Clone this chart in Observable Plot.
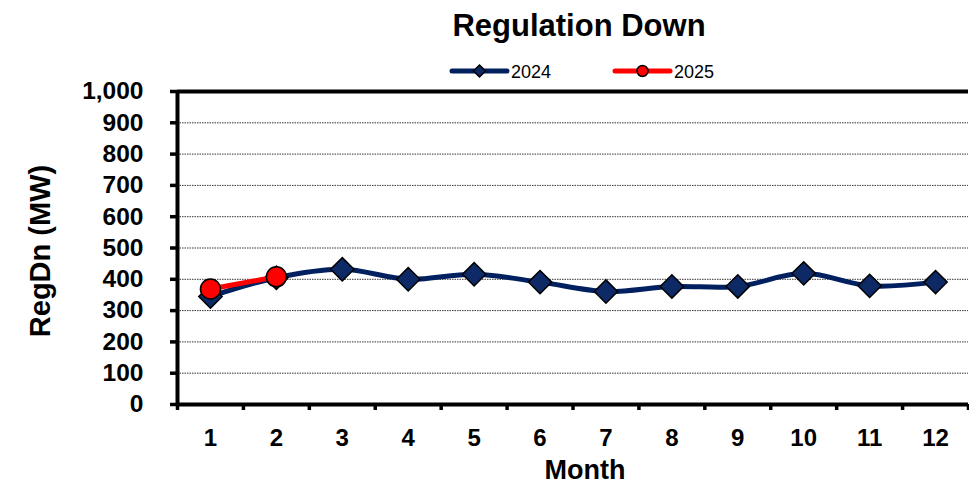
<!DOCTYPE html>
<html>
<head>
<meta charset="utf-8">
<script src="https://cdn.jsdelivr.net/npm/d3@7"></script>
<script src="https://cdn.jsdelivr.net/npm/@observablehq/plot@0.6"></script>
<style>
  body { margin: 0; background: #fff; font-family: "Liberation Sans", Arial, sans-serif; }
  #wrap { width: 969px; }
  #head { position: relative; height: 61px; }
  #title { position: absolute; left: 579px; top: 10px; transform: translateX(-50%);
           font-size: 31px; font-weight: bold; line-height: 31px; white-space: nowrap; color: #000; }
  #legend { position: absolute; left: 0; top: 0; overflow: visible; }
</style>
</head>
<body>
<div id="wrap">
  <div id="head">
    <div id="title">Regulation Down</div>
    <svg id="legend" width="969" height="80"></svg>
  </div>
  <div id="chart"></div>
</div>
<script>
// Monthly average Regulation Down (MW)
const months = [1, 2, 3, 4, 5, 6, 7, 8, 9, 10, 11, 12];
const regDn2024 = [345, 405, 432, 400, 416, 391, 361, 377, 377, 419, 379, 391];
const regDn2025 = [369, 408];
const yTicks = [0, 100, 200, 300, 400, 500, 600, 700, 800, 900, 1000];
const gridLines = [100, 200, 300, 400, 500, 600, 700, 800, 900];
const bandEdges = [0.5, 1.5, 2.5, 3.5, 4.5, 5.5, 6.5, 7.5, 8.5, 9.5, 10.5, 11.5, 12.5];

const navy = "#002060";
const red = "#ff0000";

const s2024 = months.map((m, i) => ({month: m, value: regDn2024[i]}));
const s2025 = regDn2025.map((v, i) => ({month: months[i], value: v}));

// Legend
const legendSeries = [
  {label: "2024", color: navy, x0: 452, x1: 507, symbol: "diamond"},
  {label: "2025", color: red, x0: 615, x1: 670, symbol: "circle"}
];
const lg = d3.select("#legend");
const ly = 71;
for (const s of legendSeries) {
  lg.append("line").attr("x1", s.x0).attr("x2", s.x1).attr("y1", ly).attr("y2", ly)
    .attr("stroke", s.color).attr("stroke-width", 5).attr("stroke-linecap", "round");
  const cx = (s.x0 + s.x1) / 2;
  if (s.symbol === "diamond") {
    lg.append("path").attr("d", `M${cx},${ly - 6}L${cx + 6},${ly}L${cx},${ly + 6}L${cx - 6},${ly}Z`)
      .attr("fill", "#0d2a66").attr("stroke", "#000").attr("stroke-width", 1.5);
  } else {
    lg.append("circle").attr("cx", cx).attr("cy", ly).attr("r", 5.5)
      .attr("fill", red).attr("stroke", "#000").attr("stroke-width", 1.5);
  }
  lg.append("text").attr("x", s.x1 + 4).attr("y", ly + 6.5).text(s.label)
    .attr("font-size", 18).attr("fill", "#000")
    .attr("font-family", "'Liberation Sans', Arial, sans-serif");
}

const plot = Plot.plot({
  width: 969,
  height: 424,
  marginTop: 30,
  marginBottom: 81,
  marginLeft: 177,
  marginRight: 1,
  style: {fontFamily: "'Liberation Sans', Arial, sans-serif", color: "#000", background: "#fff"},
  x: {type: "linear", domain: [0.5, 12.5]},
  y: {domain: [0, 1000]},
  marks: [
    Plot.ruleY(gridLines, {stroke: "#333", strokeWidth: 1, strokeDasharray: "1.5,1"}),
    // x axis: tick marks at month boundaries, labels at month centres
    Plot.axisX(bandEdges, {tickSize: 6, tickFormat: () => "", strokeWidth: 3.5, stroke: "#000", label: null}),
    Plot.axisX(months, {tickSize: 0, tickPadding: 24, fontSize: 24, fontWeight: "bold", label: null}),
    Plot.axisY(yTicks, {tickSize: 7, tickPadding: 27, fontSize: 24.5, fontWeight: "bold",
      strokeWidth: 3.5, tickFormat: d3.format(","), label: null}),
    Plot.ruleY([0], {stroke: "#000", strokeWidth: 4}),
    Plot.ruleY([1000], {stroke: "#000", strokeWidth: 4}),
    Plot.ruleX([0.5], {stroke: "#000", strokeWidth: 4}),
    Plot.line(s2024, {x: "month", y: "value", stroke: navy, strokeWidth: 5, curve: "catmull-rom"}),
    Plot.dot(s2024, {x: "month", y: "value", symbol: "diamond2", r: 10.5, fill: "#0d2a66", stroke: "#000", strokeWidth: 1.5}),
    Plot.line(s2025, {x: "month", y: "value", stroke: red, strokeWidth: 5, curve: "catmull-rom"}),
    Plot.dot(s2025, {x: "month", y: "value", r: 10, fill: red, stroke: "#000", strokeWidth: 1.5}),
    Plot.text(["Month"], {text: d => d, frameAnchor: "bottom", lineAnchor: "middle", dx: 12, dy: 66,
      fontSize: 27, fontWeight: "bold", fill: "#000"}),
    Plot.text(["RegDn (MW)"], {text: d => d, frameAnchor: "left", textAnchor: "middle", lineAnchor: "middle",
      dx: -137, dy: 3, rotate: -90, fontSize: 29, fontWeight: "bold", fill: "#000"})
  ]
});
document.getElementById("chart").appendChild(plot);
</script>
</body>
</html>
